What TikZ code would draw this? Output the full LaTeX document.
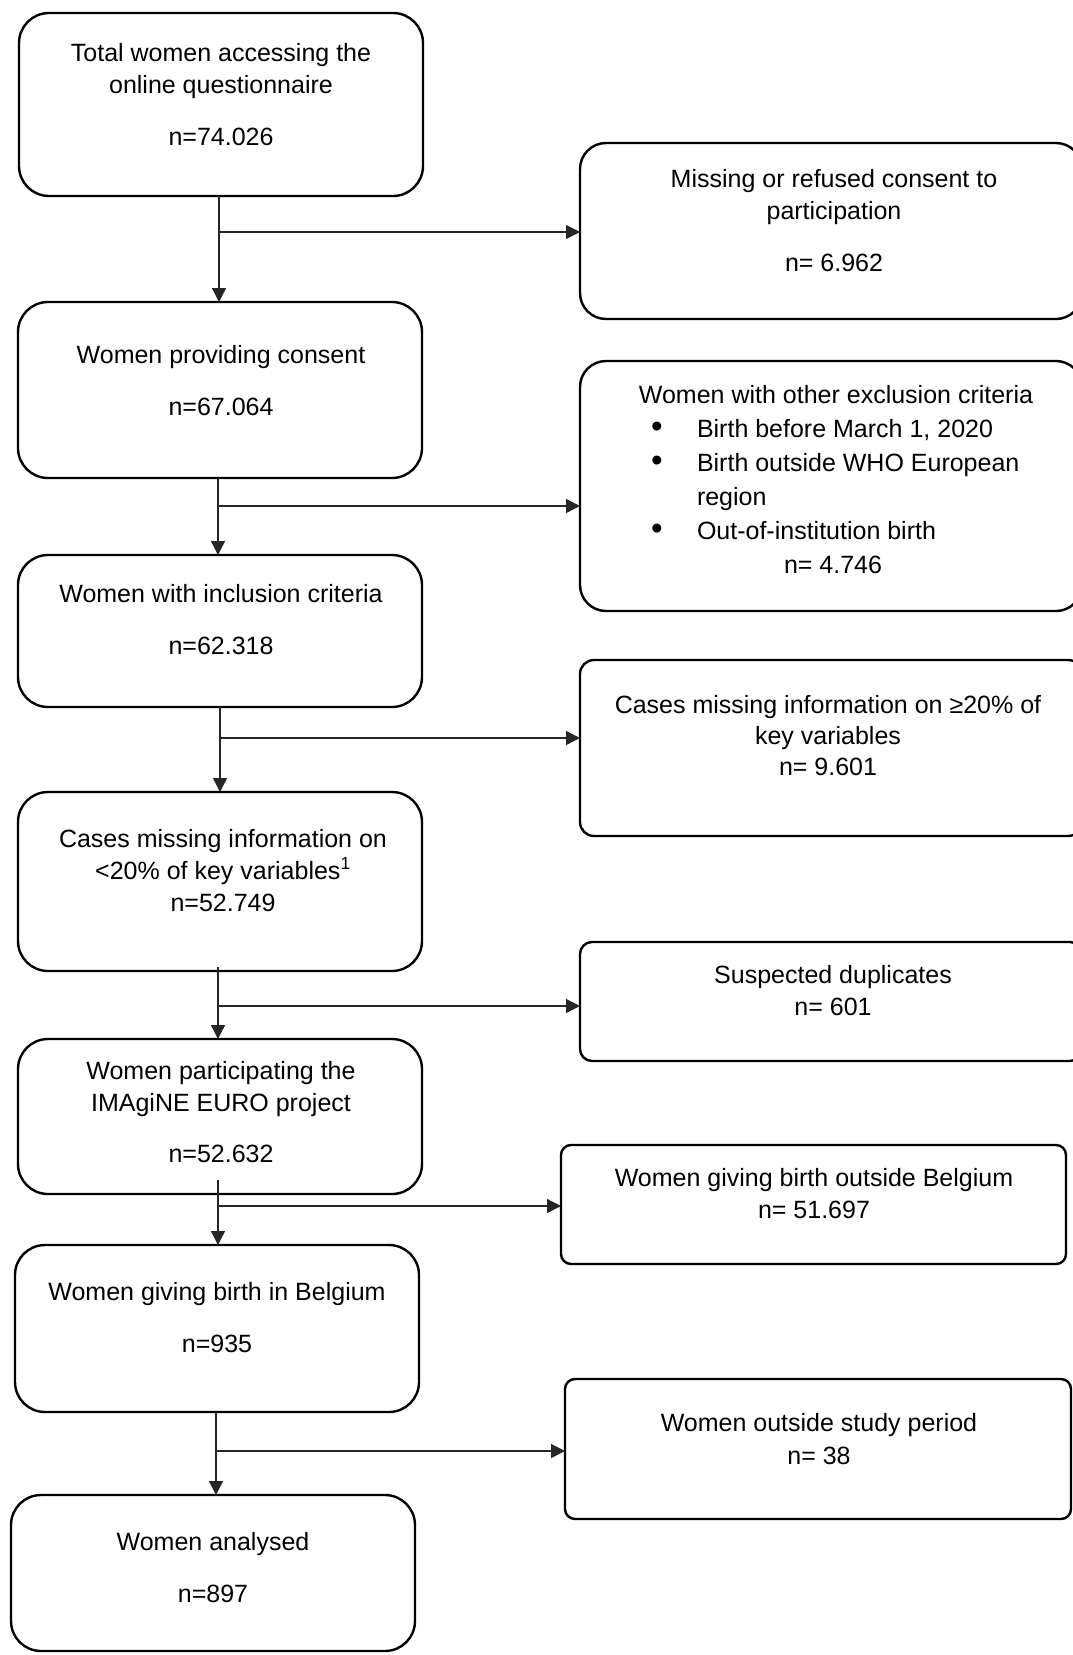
\documentclass[tikz,border=0pt]{standalone}
\usepackage{fontspec}
\setmainfont{Liberation Sans}
\usetikzlibrary{arrows.meta}
\newcommand\bigbul{\makebox[45pt][l]{\hspace{-1pt}{\fontsize{33}{33}\selectfont •}}}
\begin{document}
\begin{tikzpicture}[x=1pt,y=-1pt,
  box/.style={draw=black, line width=2.4pt, outer sep=0pt, inner sep=0pt, rounded corners=#1},
  txt/.style={inner sep=0pt, outer sep=0pt, anchor=north, align=center, font=\fontsize{25}{32}\selectfont},
  conn/.style={draw=black!85, line width=1.3pt},
  arr/.style={conn, -{Triangle[length=14pt,width=14pt]}}
]
\useasboundingbox (0,0) rectangle (1073,1655);
\clip (0,0) rectangle (1073,1655);

% ---------- left column boxes ----------
\node[box=30pt, minimum width=404pt, minimum height=183pt] (b1) at (221,104.5) {};
\node[box=30pt, minimum width=404pt, minimum height=176pt] (b2) at (220,390) {};
\node[box=30pt, minimum width=404pt, minimum height=152pt] (b3) at (220,631) {};
\node[box=30pt, minimum width=404pt, minimum height=179pt] (b4) at (220,881.5) {};
\node[box=30pt, minimum width=404pt, minimum height=155pt] (b5) at (220,1116.5) {};
\node[box=30pt, minimum width=404pt, minimum height=167pt] (b6) at (217,1328.5) {};
\node[box=30pt, minimum width=404pt, minimum height=156pt] (b7) at (213,1573) {};

% ---------- right column boxes ----------
\node[box=26pt, minimum width=502pt, minimum height=176pt] (r1) at (831,231) {};
\node[box=26pt, minimum width=502pt, minimum height=250pt] (r2) at (831,486) {};
\node[box=14pt, minimum width=502pt, minimum height=176pt] (r3) at (831,748) {};
\node[box=12pt, minimum width=502pt, minimum height=119pt] (r4) at (831,1001.5) {};
\node[box=10pt, minimum width=505pt, minimum height=119pt] (r5) at (813.5,1204.5) {};
\node[box=10pt, minimum width=506pt, minimum height=140pt] (r6) at (818,1449) {};

% ---------- texts ----------
\node[txt] (t1) at (221,38.6) {\strut Total women accessing the\\\strut online questionnaire\\[20pt]\strut n=74.026};
\node[txt] (t2) at (221,340.6) {\strut Women providing consent\\[20pt]\strut n=67.064};
\node[txt] (t3) at (221,579.6) {\strut Women with inclusion criteria\\[20pt]\strut n=62.318};
\node[txt] (t4) at (223,824.6) {\strut Cases missing information on\\\strut <20\% of key variables\textsuperscript{1}\\\strut n=52.749};
\node[txt] (t5) at (221,1056.6) {\strut Women participating the\\\strut IMAgiNE EURO project\\[19pt]\strut n=52.632};
\node[txt] (t6) at (217,1277.6) {\strut Women giving birth in Belgium\\[20pt]\strut n=935};
\node[txt] (t7) at (213,1527.6) {\strut Women analysed\\[20pt]\strut n=897};

\node[txt] (u1) at (834,164.6) {\strut Missing or refused consent to\\\strut participation\\[20pt]\strut n= 6.962};
\node[txt, font=\fontsize{25}{34}\selectfont] (u2) at (836,379.6) {\strut Women with other exclusion criteria\\
  \makebox[368pt][l]{\strut\bigbul Birth before March 1, 2020}\\
  \makebox[368pt][l]{\strut\bigbul Birth outside WHO European}\\
  \makebox[368pt][l]{\strut\makebox[45pt][l]{}region}\\
  \makebox[368pt][l]{\strut\bigbul Out-of-institution birth}\\
  \makebox[0pt]{\hspace{-6pt}\strut n= 4.746}};
\node[txt, font=\fontsize{25}{31}\selectfont] (u3) at (828,691.6) {\strut Cases missing information on ≥20\% of\\\strut key variables\\\strut n= 9.601};
\node[txt] (u4) at (833,960.6) {\strut Suspected duplicates\\\strut n= 601};
\node[txt] (u5) at (814,1163.6) {\strut Women giving birth outside Belgium\\\strut n= 51.697};
\node[txt, font=\fontsize{25}{33}\selectfont] (u6) at (819,1408.6) {\strut Women outside study period\\\strut n= 38};

% ---------- connectors ----------
\coordinate (j1) at (219,232);
\draw[arr] (j1 |- b1.south) -- (j1 |- b2.north);
\draw[arr] (j1) -- (j1 -| r1.west);

\coordinate (j2) at (218,506);
\draw[arr] (j2 |- b2.south) -- (j2 |- b3.north);
\draw[arr] (j2) -- (j2 -| r2.west);

\coordinate (j3) at (220,738);
\draw[arr] (j3 |- b3.south) -- (j3 |- b4.north);
\draw[arr] (j3) -- (j3 -| r3.west);

\coordinate (j4) at (218,1006);
\coordinate (s4) at (218,967);
\draw[arr] (s4) -- (j4 |- b5.north);
\draw[arr] (j4) -- (j4 -| r4.west);

\coordinate (j5) at (218,1206);
\coordinate (s5) at (218,1180);
\draw[arr] (s5) -- (j5 |- b6.north);
\draw[arr] (j5) -- (j5 -| r5.west);

\coordinate (j6) at (216,1451);
\draw[arr] (j6 |- b6.south) -- (j6 |- b7.north);
\draw[arr] (j6) -- (j6 -| r6.west);
\end{tikzpicture}
\end{document}
